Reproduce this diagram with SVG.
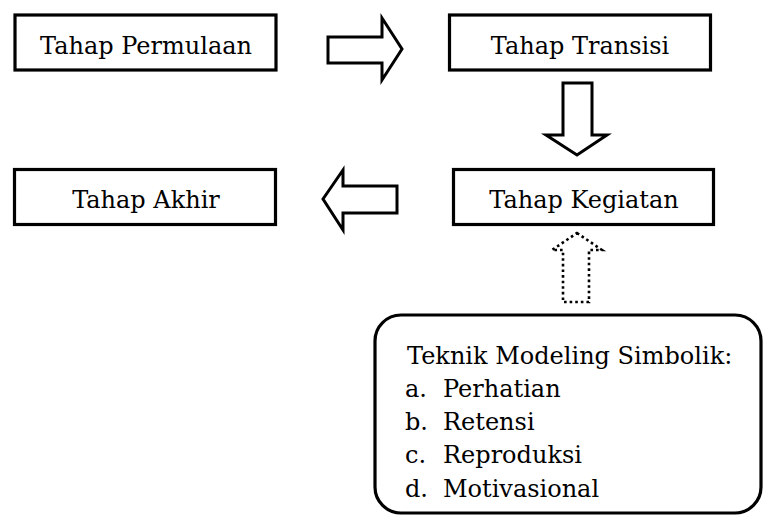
<svg xmlns="http://www.w3.org/2000/svg" width="763" height="515" viewBox="0 0 763 515">
<style>
.box{fill:#fff;stroke:#000;stroke-width:3.2}
text{font-family:'DejaVu Serif',serif;font-size:24px;fill:#000}
.c{text-anchor:middle}
.arr{fill:#fff;stroke:#000;stroke-width:3;stroke-linejoin:miter}
.dot{fill:none;stroke:#000;stroke-width:2.6;stroke-dasharray:2.6 3}
</style>
<rect width="763" height="515" fill="#fff"/>
<g id="connectors">
<polygon class="arr" points="328,37 382,37 382,18 402,49 382,80 382,63 328,63"/>
<polygon class="arr" points="563,83 592,83 592,135 607,135 577,155 546,135 563,135"/>
<polygon class="arr" points="323,199 343,170 343,186 397,186 397,213 343,213 343,230"/>
<polygon class="dot" points="577,233 602,250 589,250 589,302 563,302 563,250 552,250"/>
</g>
<g id="permulaan">
<rect class="box" x="15" y="15" width="261" height="55"/>
<text class="c" x="146" y="54">Tahap Permulaan</text>
</g>
<g id="transisi">
<rect class="box" x="449.5" y="15" width="261" height="55"/>
<text class="c" x="580" y="54">Tahap Transisi</text>
</g>
<g id="kegiatan">
<rect class="box" x="453.5" y="169.5" width="260" height="55"/>
<text class="c" x="584" y="208">Tahap Kegiatan</text>
</g>
<g id="akhir">
<rect class="box" x="14.5" y="169.5" width="261" height="55"/>
<text class="c" x="146" y="208">Tahap Akhir</text>
</g>
<g id="teknik">
<rect x="375" y="315" width="386" height="198" rx="26" ry="26" fill="#fff" stroke="#000" stroke-width="3.2"/>
<text x="407" y="364">Teknik Modeling Simbolik:</text>
<text x="405" y="397">a.</text><text x="443" y="397">Perhatian</text>
<text x="405" y="430">b.</text><text x="443" y="430">Retensi</text>
<text x="405" y="463">c.</text><text x="443" y="463">Reproduksi</text>
<text x="405" y="497">d.</text><text x="443" y="497">Motivasional</text>
</g>
</svg>
